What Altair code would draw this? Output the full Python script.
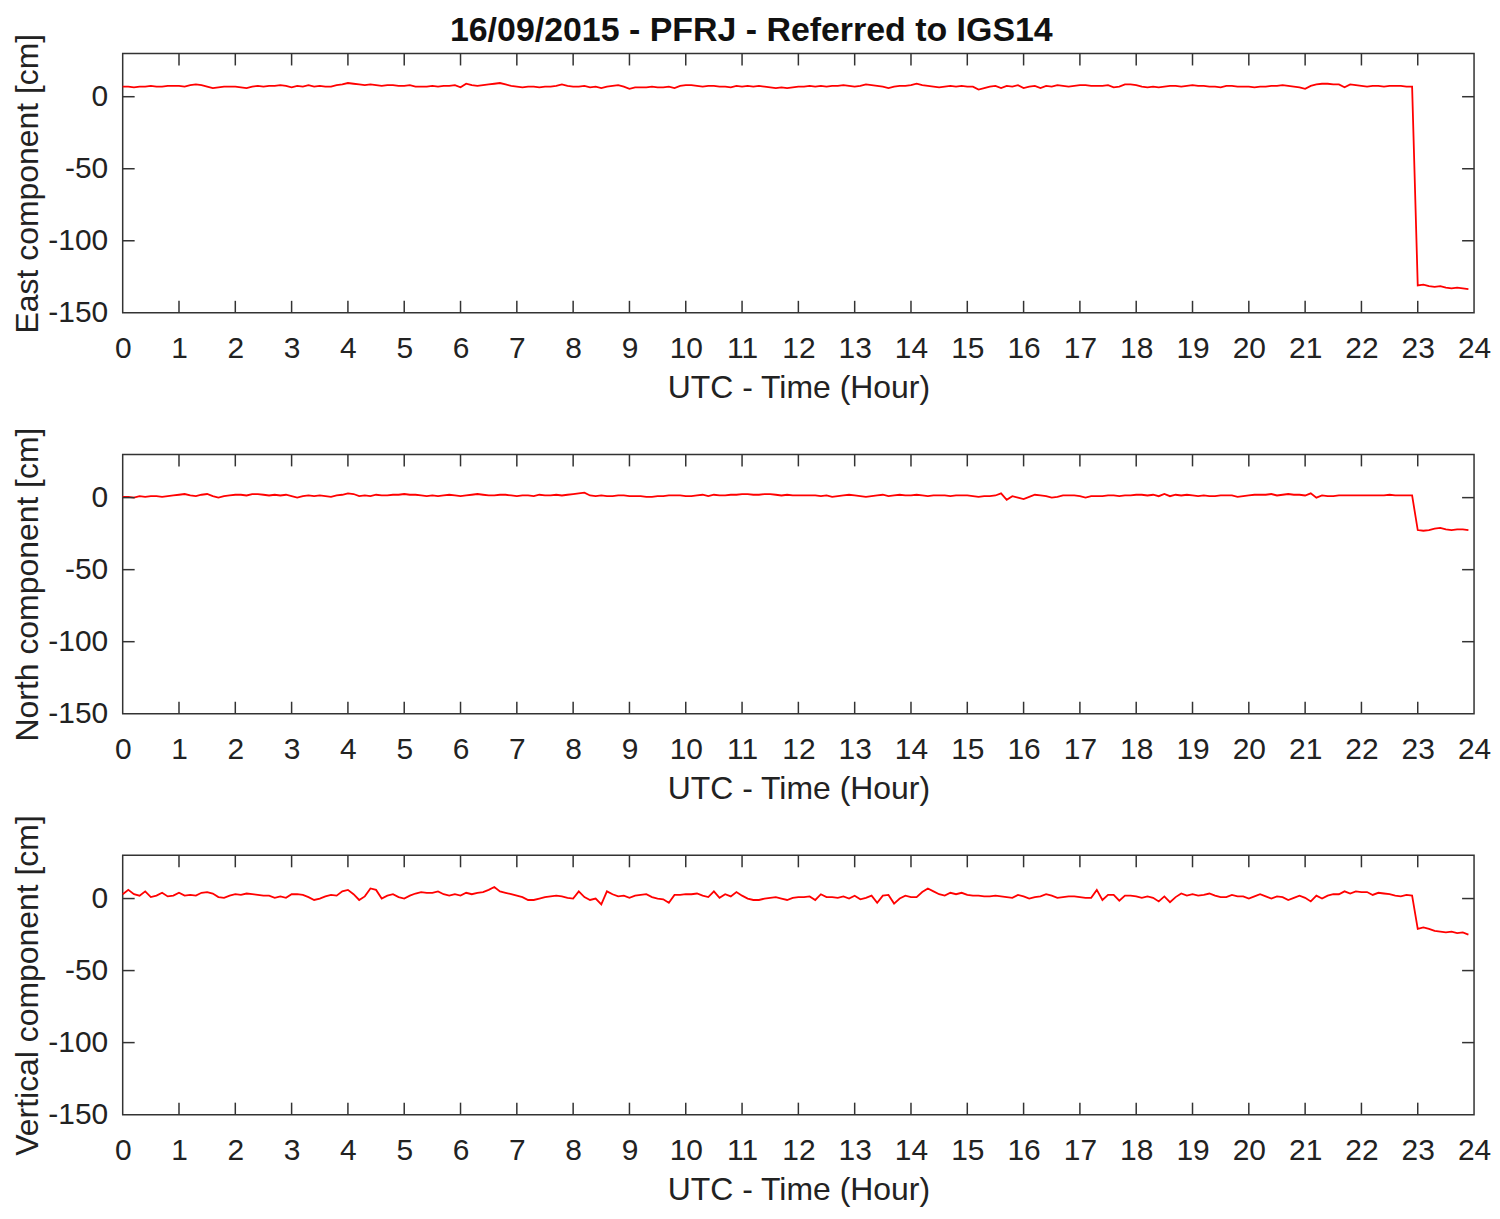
import altair as alt
import pandas as pd

# ---------------- data ----------------
hours = [i / 10 for i in range(240)]  # sample times, 0.0 .. 23.9 h

east = [
    7, 7, 6.5, 7, 7, 7.5, 7, 7, 7.5, 7.5,
    7.5, 7, 8, 8.5, 8, 7, 6, 6.5, 7, 7,
    7, 6.5, 6, 7, 7.5, 7, 7.5, 7.5, 8, 7.5,
    6.5, 7.5, 7, 8, 7, 7.5, 7, 7, 8, 8.5,
    9.5, 9, 8.5, 8, 8.5, 8, 7.5, 8, 8, 7.5,
    7.5, 8, 7, 7, 7, 7.5, 7, 7.5, 7.5, 8,
    6.5, 9, 8, 7.5, 8, 8.5, 9, 9.5, 8.5, 7.5,
    7, 6.5, 7, 7, 6.5, 7, 7, 7.5, 8.5, 7.5,
    7, 7, 7.5, 6.5, 7, 6, 7, 7.5, 8, 7,
    5.5, 6.5, 6.5, 6.5, 7, 6.5, 6.5, 7, 6, 7.5,
    8, 8, 7.5, 7, 7.5, 7.5, 7, 7, 6.5, 7.5,
    7, 7.5, 7, 7.5, 7, 6.5, 6, 6.5, 6, 6.5,
    7, 7, 7.5, 7, 7.5, 7, 7.5, 7.5, 8, 7.5,
    7, 7.5, 8.5, 8, 7.5, 7, 6, 7, 7.5, 7.5,
    8, 9, 8, 7.5, 7, 6.5, 7, 7.5, 7, 7.5,
    7, 7, 5, 6, 7, 7.5, 6, 7.5, 7, 8,
    6, 7, 7.5, 6, 7.5, 7, 8, 7.5, 7, 7.5,
    8, 8, 7.5, 7.5, 7.5, 8, 6.5, 7, 8.5, 8.5,
    8, 7, 6.5, 7, 6.5, 7, 7.5, 7.5, 7, 7.5,
    8, 7.5, 7.5, 7, 7, 6.5, 7.5, 7.5, 7, 7,
    7, 6.5, 7, 7, 7.5, 7.5, 8, 7.5, 7, 6.5,
    5.5, 7.5, 8.5, 9, 9, 8.5, 8.5, 6.5, 8.5, 8,
    7.5, 7, 7.5, 7.5, 7, 7.5, 7.5, 7.5, 7, 7,
    -131, -130.5, -131.5, -132, -131.5, -132.5, -133, -132.5, -133, -133.5,
]

north = [
    0.5, 0.5, 0, 1, 0.5, 1, 1, 0.5, 1, 1.5,
    2, 2.5, 1.5, 1, 2, 2.5, 1, 0, 1, 1.5,
    2, 2, 1.5, 2.5, 2.5, 2, 1.5, 2, 1.5, 2,
    1, 0, 1, 1.5, 1, 1.5, 1, 0.5, 1.5, 2,
    3, 2.5, 1, 1.5, 1, 2, 1.5, 1.5, 2, 2,
    2.5, 2, 2, 1.5, 1, 1.5, 1, 1.5, 2, 1.5,
    1, 1.5, 2, 2.5, 2, 1.5, 1.5, 2, 2, 1.5,
    1, 1.5, 1.5, 1, 2, 1.5, 1.5, 2, 1.5, 2,
    2.5, 3, 3.5, 1.5, 1, 1.5, 1, 1, 1.5, 1.5,
    1, 1, 1, 0.5, 0.5, 1, 1, 1.5, 1.5, 1.5,
    1, 1, 1.5, 2, 1, 2, 1.5, 1.5, 2, 2,
    2.5, 2.5, 2, 2, 2.5, 2.5, 2, 1.5, 2, 1.5,
    1.5, 1.5, 1.5, 1.5, 1, 1.5, 0.5, 1, 1.5, 2,
    1.5, 1, 0.5, 1, 1.5, 2, 1, 1.5, 2, 1.5,
    1.5, 2, 1.5, 1, 1.5, 1.5, 1.5, 1, 1.5, 1.5,
    1.5, 1, 0.5, 1, 1, 1.5, 3, -1.5, 1, 0,
    -1, 0.5, 2, 1.5, 1, 0, 0.5, 1.5, 1.5, 1.5,
    1, 0, 1, 1, 1, 1.5, 1.5, 1, 1.5, 1.5,
    2, 2, 1.5, 2, 1, 2.5, 1, 2, 1.5, 2,
    1.5, 1, 1.5, 1, 1, 1.5, 1.5, 1.5, 0.5, 1,
    1.5, 2, 2, 2, 2.5, 1.5, 2, 2.5, 2, 2,
    1.5, 3, 0, 1.5, 1, 1, 1.5, 1.5, 1.5, 1.5,
    1.5, 1.5, 1.5, 1.5, 1.5, 2, 1.5, 1.5, 1.5, 1.5,
    -22.5, -23, -22.5, -21.5, -21, -22, -22.5, -22, -22, -22.5,
]

vertical = [
    3, 6, 3, 2, 5, 1, 2, 4, 1.5, 2,
    4, 2, 2.5, 2, 4, 4.5, 3.5, 1, 0.5, 2,
    3, 2.5, 3.5, 3, 2.5, 2, 2, 0.5, 1.5, 0.5,
    3, 3, 2.5, 1, -1, 0, 1.5, 2.5, 2, 5,
    6, 3, -1, 1.5, 7, 6, 0, 2, 3, 1,
    0, 2, 3.5, 4.5, 4, 4, 5, 3, 2, 3,
    2, 4, 3, 4, 4.5, 6, 8, 5, 4, 3,
    2, 1, -1, -1, 0, 1, 1.5, 2, 1.5, 0.5,
    0, 5, 1, -1, 0, -4, 5, 3, 1.5, 2,
    0.5, 2, 2.5, 3, 1, 0, -0.5, -3, 2.5, 2.5,
    3, 3, 3.5, 2, 1, 5, 0.5, 3, 1.5, 4.5,
    2, 0, -1, -1, 0, 0.5, 1, 0, -1, 0.5,
    1, 1, 1.5, -1, 3, 1, 1, 0.5, 1.5, 0,
    2, -0.5, 0.5, 2, -3, 2, 2.5, -3.5, 0, 2,
    1, 1, 4.5, 7, 5, 3, 2, 4, 3, 4,
    2.5, 2, 2, 1.5, 1.5, 2, 1.5, 1, 0.5, 2.5,
    1.5, 0, 1, 1.5, 3, 2, 0.5, 1, 1.5, 1.5,
    1, 0.5, 0.5, 6, -1, 2.5, 2.5, -1.5, 2, 2,
    1.5, 0.5, 1.5, 0.5, -2, 1.5, -2.5, 1, 3.5, 2,
    3, 2, 2.5, 3.5, 2, 1, 1, 2.5, 1.5, 1.5,
    0, 1.5, 3, 1.5, 0, 1.5, 1, -1, 0.5, 2,
    0.5, -2, 2, 0, 2, 3, 3, 5, 3.5, 5,
    4.5, 4.5, 2.5, 4, 3.5, 3, 2, 1.5, 2.5, 2,
    -21, -20, -21, -22.5, -23, -23.5, -23, -24, -23.5, -25,
]

x_ticks = list(range(0, 25))
y_ticks = [-150, -100, -50, 0]
x_inner_ticks = list(range(1, 24))
y_inner_ticks = [-100, -50, 0]

titles = ["East component [cm]", "North component [cm]", "Vertical component [cm]"]
series = [east, north, vertical]

W, H = 1355, 260
TICK = 12
FRAME = "#333333"


def x_enc(field):
    return alt.X(
        f"{field}:Q",
        scale=alt.Scale(domain=[0, 24], nice=False, zero=False),
        axis=alt.Axis(values=x_ticks, labelExpr="'' + datum.value",
                      title="UTC - Time (Hour)"),
    )


def y_enc(field, title):
    return alt.Y(
        f"{field}:Q",
        scale=alt.Scale(domain=[-150, 30], nice=False, zero=False),
        axis=alt.Axis(values=y_ticks, labelExpr="'' + datum.value", title=title),
    )


def panel(values, title):
    df = pd.DataFrame({"h": hours, "v": values})
    line = alt.Chart(df).mark_line(color="#ff0000", strokeWidth=1.8).encode(
        x=x_enc("h"), y=y_enc("v", title)
    )
    xt = pd.DataFrame({"h": x_inner_ticks})
    yt = pd.DataFrame({"v": y_inner_ticks})
    rule = dict(color=FRAME, strokeWidth=1.5)
    top = alt.Chart(xt).mark_rule(**rule).encode(
        x=x_enc("h"), y=alt.value(0), y2=alt.value(TICK)
    )
    bottom = alt.Chart(xt).mark_rule(**rule).encode(
        x=x_enc("h"), y=alt.value(H - TICK), y2=alt.value(H)
    )
    left = alt.Chart(yt).mark_rule(**rule).encode(
        y=y_enc("v", title), x=alt.value(0), x2=alt.value(TICK)
    )
    right = alt.Chart(yt).mark_rule(**rule).encode(
        y=y_enc("v", title), x=alt.value(W - TICK), x2=alt.value(W)
    )
    return alt.layer(line, top, bottom, left, right).properties(width=W, height=H)


chart = alt.vconcat(
    *[panel(s, t) for s, t in zip(series, titles)], spacing=142, bounds="flush"
).properties(
    title=alt.TitleParams(
        "16/09/2015 - PFRJ - Referred to IGS14",
        font="Liberation Sans",
        fontSize=34,
        fontWeight="bold",
        color="#111111",
        anchor="middle",
        offset=-16,
    ),
    padding={"left": 3, "top": 4, "right": 0, "bottom": 0},
).configure_view(
    stroke=FRAME, strokeWidth=1.5
).configure_axis(
    domain=False,
    ticks=False,
    grid=False,
    labelFont="Liberation Sans",
    labelFontSize=30,
    labelColor="#222222",
    labelFlush=False,
    labelOverlap=False,
    titleFont="Liberation Sans",
    titleFontSize=32,
    titleFontWeight="normal",
    titleColor="#222222",
).configure_axisX(
    labelPadding=21, titlePadding=9
).configure_axisY(
    labelPadding=15, titlePadding=3
)

chart.save("out.html", embed_options={"renderer": "svg", "actions": False})
